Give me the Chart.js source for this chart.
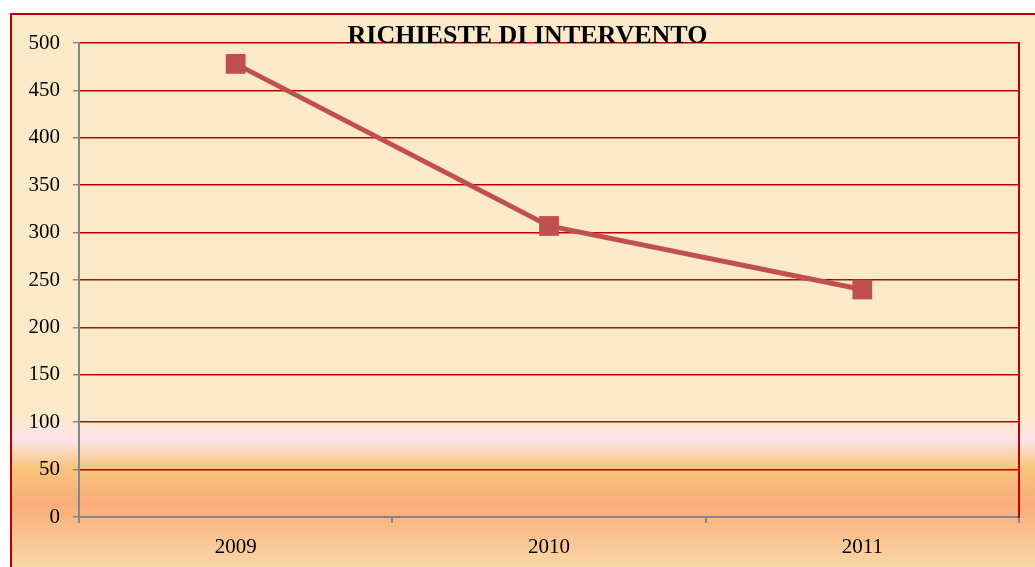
<!DOCTYPE html>
<html>
<head>
<meta charset="utf-8">
<script src="https://cdn.jsdelivr.net/npm/chart.js@4"></script>
<style>
html,body{margin:0;padding:0;background:#fff;overflow:hidden;width:1035px;height:567px;}
#box{position:absolute;left:10px;top:13px;width:1040px;height:570px;border:2px solid #c00000;
background:linear-gradient(to bottom,#faeac8 0%,#faeac8 70%,#fce4ea 74.5%,#f9c47c 79.5%,#f9ac7c 86%,#fad8a6 97%,#fad8a6 100%);}
canvas{position:absolute;left:0;top:0;}
</style>
</head>
<body>
<div id="box"><canvas id="myChart" width="1023" height="552"></canvas></div>
<script>
var years=['2009','2010','2011'];
var richieste=[478,307,240];
var title='RICHIESTE DI INTERVENTO';

var gray='#868686';
var red='#c00000';

var titlePlugin={
	id:'titolo',
	afterDraw:function(chart){
		var ctx=chart.ctx;var a=chart.chartArea;
		ctx.save();
		ctx.font='bold 26px "Liberation Serif"';
		ctx.fillStyle='#000';
		ctx.textAlign='center';
		ctx.textBaseline='alphabetic';
		ctx.fillText(title,chart.width/2+4,a.top);
		ctx.restore();
	}
};

var ctx=document.getElementById('myChart');
var myChart=new Chart(ctx,{
	type:'line',
	data:{
		labels:years,
		datasets:[{
			data:richieste,
			borderColor:'#c0504d',
			backgroundColor:'#c0504d',
			borderWidth:5,
			tension:0,
			pointStyle:'rect',
			pointRadius:14,
			pointHoverRadius:14,
			pointBorderWidth:0
		}]
	},
	options:{
		responsive:false,
		animation:false,
		events:[],
		layout:{padding:{top:28,right:16,left:0,bottom:0}},
		plugins:{legend:{display:false},tooltip:{enabled:false}},
		scales:{
			x:{
				offset:true,
				grid:{offset:true,drawOnChartArea:false,drawTicks:true,tickLength:6,color:gray,lineWidth:2},
				border:{color:gray,width:2},
				ticks:{color:'#000',padding:12,font:{family:'Liberation Serif',size:21}},
				afterFit:function(s){s.height=50;}
			},
			y:{
				min:0,max:500,
				grid:{
					color:function(c){return c.tick&&c.tick.value===0?gray:red;},
					tickColor:gray,lineWidth:1.5,tickLength:6
				},
				border:{color:gray,width:2},
				ticks:{stepSize:50,color:'#000',padding:13,font:{family:'Liberation Serif',size:21}},
				afterFit:function(s){s.width=67;}
			},
			y2:{
				position:'right',
				grid:{display:false},
				border:{display:true,color:red,width:2},
				ticks:{display:false},
				afterFit:function(s){s.width=0;}
			}
		}
	},
	plugins:[titlePlugin]
});
</script>
</body>
</html>
